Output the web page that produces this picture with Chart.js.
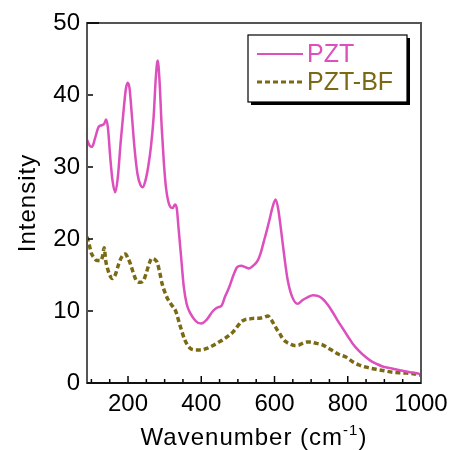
<!DOCTYPE html>
<html>
<head>
<meta charset="utf-8">
<script src="https://cdn.jsdelivr.net/npm/chart.js@4.4.1/dist/chart.umd.min.js"></script>
<style>
  html, body { margin: 0; padding: 0; background: #fff; }
  #wrap { width: 455px; height: 450px; position: relative; }
</style>
</head>
<body>
<div id="wrap"><canvas id="chart"></canvas></div>
<script>
// Raman spectra
const pztX = [88, 95, 102, 110, 120, 128, 135, 140, 145, 152, 158, 165, 172, 180, 188, 194, 199, 204, 210, 218,
  226, 234, 240, 247, 255, 263, 270, 276, 281, 286, 292, 298, 304, 310, 315, 322, 328, 333, 338, 345,
  352, 360, 370, 385, 400, 415, 432, 445, 455, 465, 477, 488, 498, 509, 520, 530, 542, 554, 562, 570,
  578, 586, 595, 603, 610, 618, 627, 636, 648, 663, 676, 690, 705, 718, 731, 745, 758, 772, 786, 800,
  813, 830, 849, 865, 877, 895, 913, 930, 949, 970, 985, 1000];
const pztY = [33.8, 33.0, 32.8, 34.0, 35.6, 35.8, 36.0, 36.6, 35.5, 31.0, 28.0, 26.5, 28.5, 33.5, 37.9, 40.8, 41.7, 41.0, 37.5, 32.5,
  29.0, 27.5, 27.2, 28.0, 30.0, 33.0, 37.0, 42.5, 44.8, 42.0, 35.5, 30.5, 27.0, 25.2, 24.5, 24.3, 24.8, 24.3, 21.5, 17.5,
  13.5, 11.0, 9.7, 8.6, 8.25, 8.8, 10.0, 10.5, 10.7, 12.0, 13.4, 15.0, 16.1, 16.3, 16.1, 15.9, 16.3, 17.0, 18.0, 19.5,
  21.0, 22.6, 24.5, 25.5, 24.2, 21.2, 17.5, 14.3, 12.0, 11.0, 11.5, 11.9, 12.2, 12.1, 11.7, 10.9, 9.9, 8.7, 7.6, 6.5,
  5.5, 4.5, 3.6, 3.0, 2.7, 2.3, 2.1, 1.9, 1.7, 1.5, 1.4, 1.2];

const bfX = [88, 95, 100, 106, 115, 125, 130, 135, 139, 143, 150, 157, 165, 175, 185, 193, 200, 206, 215, 222,
  229, 236, 243, 250, 258, 265, 272, 279, 286, 293, 300, 308, 318, 330, 342, 355, 368, 385, 400, 415,
  432, 445, 459, 473, 487, 498, 509, 520, 532, 545, 559, 570, 582, 591, 600, 607, 614, 622, 632, 643,
  655, 668, 680, 690, 700, 715, 731, 745, 758, 775, 795, 812, 831, 850, 877, 900, 922, 950, 979, 1000];
const bfY = [20.3, 19.0, 18.0, 17.5, 17.0, 17.0, 17.5, 18.8, 17.0, 16.1, 15.0, 14.5, 15.0, 16.6, 17.7, 17.9, 17.3, 16.6, 15.2, 14.3,
  14.0, 14.0, 14.3, 15.3, 16.6, 17.3, 17.2, 16.8, 15.5, 13.8, 12.7, 11.7, 10.9, 10.0, 8.0, 6.0, 4.9, 4.6, 4.6, 4.8,
  5.2, 5.6, 6.0, 6.5, 7.1, 7.8, 8.5, 8.8, 8.9, 9.0, 9.0, 9.1, 9.3, 8.8, 8.0, 7.4, 6.9, 6.2, 5.7, 5.4,
  5.2, 5.3, 5.6, 5.7, 5.7, 5.5, 5.3, 4.9, 4.5, 4.0, 3.6, 3.0, 2.5, 2.2, 1.9, 1.7, 1.5, 1.4, 1.3, 1.1];

const seriesLabels = ['PZT', 'PZT-BF'];
const xTicks = [200, 400, 600, 800, 1000];
const xMinorTicks = [100, 150, 250, 300, 350, 450, 500, 550, 650, 700, 750, 850, 900, 950];
const yTicks = [0, 10, 20, 30, 40, 50];

const FONT = '"Liberation Sans", Arial, Helvetica, sans-serif';
const pink = '#dc4fbd';
const olive = '#7b6914';

const toPoints = (xs, ys) => xs.map((x, i) => ({ x, y: ys[i] }));

// frame, inward ticks, axis titles, legend box with shadow
const decorPlugin = {
  id: 'decor',
  afterDatasetsDraw(chart) {
    const { ctx, chartArea: a, scales } = chart;
    ctx.save();

    ctx.strokeStyle = '#000';
    ctx.lineWidth = 1.5;
    xTicks.forEach(v => {
      const px = scales.x.getPixelForValue(v);
      ctx.beginPath(); ctx.moveTo(px, a.bottom); ctx.lineTo(px, a.bottom - 7); ctx.stroke();
    });
    xMinorTicks.forEach(v => {
      const px = scales.x.getPixelForValue(v);
      ctx.beginPath(); ctx.moveTo(px, a.bottom); ctx.lineTo(px, a.bottom - 4); ctx.stroke();
    });
    yTicks.forEach(v => {
      const py = scales.y.getPixelForValue(v);
      ctx.beginPath(); ctx.moveTo(a.left, py); ctx.lineTo(a.left + 6, py); ctx.stroke();
    });

    ctx.strokeStyle = '#555';
    ctx.lineWidth = 2;
    ctx.strokeRect(a.left, a.top, a.right - a.left, a.bottom - a.top);
    ctx.strokeStyle = '#111';
    ctx.beginPath(); ctx.moveTo(a.left, a.bottom); ctx.lineTo(a.right, a.bottom); ctx.stroke();
    ctx.beginPath(); ctx.moveTo(a.left, a.top); ctx.lineTo(a.left + 12, a.top); ctx.stroke();

    // y title
    ctx.fillStyle = '#000';
    ctx.font = `24px ${FONT}`;
    ctx.letterSpacing = '1px';
    ctx.textAlign = 'center';
    ctx.textBaseline = 'alphabetic';
    ctx.save();
    ctx.translate(35, (a.top + a.bottom) / 2);
    ctx.rotate(-Math.PI / 2);
    ctx.fillText('Intensity', 0, 0);
    ctx.restore();

    // x title with superscript
    const main = 'Wavenumber (cm';
    const sup = '-1';
    ctx.font = `24px ${FONT}`;
    const w1 = ctx.measureText(main).width;
    const w3 = ctx.measureText(')').width;
    ctx.font = `15px ${FONT}`;
    const w2 = ctx.measureText(sup).width;
    let x0 = (a.left + a.right) / 2 - (w1 + w2 + w3) / 2;
    const base = 445;
    ctx.textAlign = 'left';
    ctx.font = `24px ${FONT}`;
    ctx.fillText(main, x0, base);
    ctx.font = `15px ${FONT}`;
    ctx.fillText(sup, x0 + w1, base - 10);
    ctx.font = `24px ${FONT}`;
    ctx.fillText(')', x0 + w1 + w2, base);
    ctx.letterSpacing = '0px';

    // legend
    const lx = a.right - 173, ly = a.top + 12, lw = 159, lh = 67;
    ctx.fillStyle = '#000';
    ctx.fillRect(lx + 3, ly + 3, lw, lh);
    ctx.fillStyle = '#fff';
    ctx.fillRect(lx, ly, lw, lh);
    ctx.strokeStyle = '#000';
    ctx.lineWidth = 1.2;
    ctx.strokeRect(lx, ly, lw, lh);
    chart.data.datasets.forEach((ds, i) => {
      const yy = ly + 19 + i * 28;
      ctx.strokeStyle = ds.borderColor;
      ctx.lineWidth = i === 0 ? 2 : 3;
      ctx.setLineDash(ds.borderDash || []);
      ctx.beginPath(); ctx.moveTo(lx + 9, yy); ctx.lineTo(lx + 55, yy); ctx.stroke();
      ctx.setLineDash([]);
      ctx.fillStyle = ds.borderColor;
      ctx.font = `25px ${FONT}`;
      ctx.textBaseline = 'middle';
      ctx.fillText(ds.label, lx + 59, yy + 1);
    });

    ctx.restore();
  }
};

new Chart(document.getElementById('chart'), {
  type: 'line',
  data: {
    datasets: [
      {
        label: seriesLabels[0],
        data: toPoints(pztX, pztY),
        borderColor: pink,
        borderWidth: 2.5,
        pointRadius: 0,
        cubicInterpolationMode: 'monotone'
      },
      {
        label: seriesLabels[1],
        data: toPoints(bfX, bfY),
        borderColor: olive,
        borderWidth: 3.5,
        borderDash: [5, 3],
        pointRadius: 0,
        cubicInterpolationMode: 'monotone'
      }
    ]
  },
  options: {
    responsive: true,
    maintainAspectRatio: false,
    animation: false,
    layout: { padding: { left: 0, right: 34, top: 23, bottom: 0 } },
    plugins: {
      legend: { display: false },
      tooltip: { enabled: false }
    },
    scales: {
      x: {
        type: 'linear',
        min: 88,
        max: 1000,
        grid: { display: false, drawTicks: false },
        border: { display: false },
        afterBuildTicks: scale => { scale.ticks = xTicks.map(v => ({ value: v })); },
        afterFit: scale => { scale.height = 67; },
        ticks: {
          color: '#000',
          padding: 7,
          maxRotation: 0,
          font: { family: FONT, size: 24 },
          callback: v => String(v)
        }
      },
      y: {
        min: 0,
        max: 50,
        grid: { display: false, drawTicks: false },
        border: { display: false },
        afterBuildTicks: scale => { scale.ticks = yTicks.map(v => ({ value: v })); },
        afterFit: scale => { scale.width = 87; },
        ticks: {
          color: '#000',
          padding: 7,
          font: { family: FONT, size: 24 },
          callback: v => String(v)
        }
      }
    }
  },
  plugins: [decorPlugin]
});
</script>
</body>
</html>
